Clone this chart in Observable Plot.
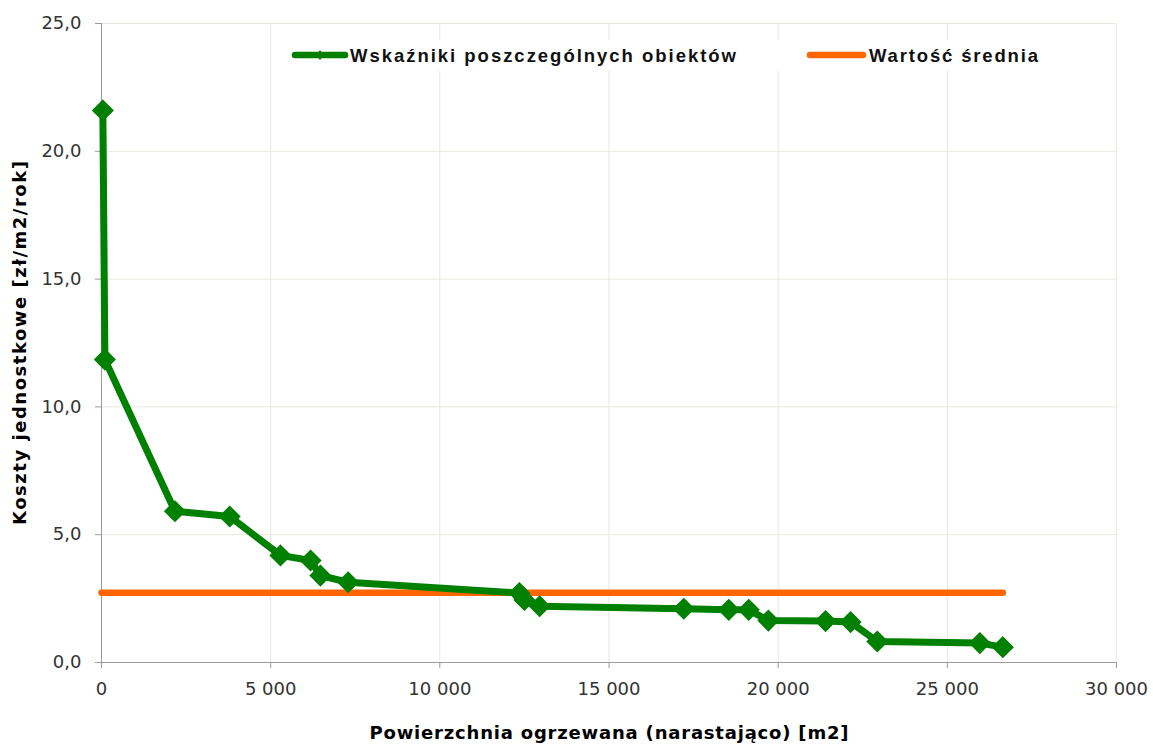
<!DOCTYPE html>
<html>
<head>
<meta charset="utf-8">
<script src="https://cdn.jsdelivr.net/npm/d3@7"></script>
<script src="https://cdn.jsdelivr.net/npm/@observablehq/plot@0.6"></script>
<style>
  html, body { margin: 0; padding: 0; background: #fff; }
  #wrap { position: relative; width: 1153px; height: 744px; }
  #legend { position: absolute; left: 0; top: 0; pointer-events: none; }
</style>
</head>
<body>
<div id="wrap"></div>
<script>
// ---- data ----
const area = [40, 100, 2170, 3790, 5290, 6180, 6470, 7290, 12350, 12500, 12950, 17210, 18540, 19130, 19710, 21400, 22140, 22930, 25960, 26640];
const cost = [21.6, 11.85, 5.92, 5.71, 4.19, 3.99, 3.40, 3.14, 2.72, 2.45, 2.20, 2.10, 2.06, 2.06, 1.64, 1.62, 1.58, 0.82, 0.76, 0.60];
const meanValue = 2.73;
const meanRange = [0, 26640];
const xTicks = [0, 5000, 10000, 15000, 20000, 25000, 30000];
const yTicks = [0, 5, 10, 15, 20, 25];
const seriesNames = ["Wskaźniki poszczególnych obiektów", "Wartość średnia"];
const xTitle = "Powierzchnia ogrzewana (narastająco) [m2]";
const yTitle = "Koszty jednostkowe [zł/m2/rok]";

const points = area.map((a, i) => ({x: a, y: cost[i]}));
const meanLine = meanRange.map(x => ({x, y: meanValue}));

const loc = d3.formatLocale({decimal: ",", thousands: "\u00a0", grouping: [3]});
const fmtX = loc.format(",d");
const fmtY = loc.format(".1f");

const green = "#008000";
const orange = "#ff6600";
const gridColor = "#e8e8de";
const axisColor = "#9a9a9a";

const chart = Plot.plot({
  width: 1153,
  height: 744,
  marginLeft: 101,
  marginRight: 37,
  marginTop: 23,
  marginBottom: 82,
  style: {fontFamily: "'DejaVu Sans', Verdana, sans-serif", fontSize: "18px", color: "#333", background: "#fff"},
  x: {domain: [0, 30000]},
  y: {domain: [0, 25]},
  marks: [
    Plot.gridX(xTicks, {stroke: gridColor, strokeOpacity: 1, strokeWidth: 1}),
    Plot.gridY(yTicks, {stroke: gridColor, strokeOpacity: 1, strokeWidth: 1}),
    Plot.ruleX([0], {stroke: axisColor, strokeWidth: 1}),
    Plot.ruleY([0], {stroke: axisColor, strokeWidth: 1}),
    Plot.axisX(xTicks, {tickFormat: fmtX, tickSize: 6, tickPadding: 14, stroke: axisColor, fill: "#333", label: null, fontSize: 18}),
    Plot.axisY(yTicks, {tickFormat: fmtY, tickSize: 6, tickPadding: 14, stroke: axisColor, fill: "#333", label: null, fontSize: 18}),
    Plot.line(meanLine, {x: "x", y: "y", stroke: orange, strokeWidth: 6.5, strokeLinecap: "round"}),
    Plot.line(points, {x: "x", y: "y", stroke: green, strokeWidth: 7, strokeLinejoin: "round"}),
    Plot.dot(points, {x: "x", y: "y", symbol: "diamond2", r: 9, fill: green, stroke: green, strokeWidth: 1.5}),
    Plot.text([xTitle], {frameAnchor: "bottom", dy: 76, text: d => d, fontWeight: "bold", fontSize: 18, fill: "#000", className: "xtitle"}),
    Plot.text([yTitle], {frameAnchor: "left", dx: -81, rotate: -90, textAnchor: "middle", text: d => d, fontWeight: "bold", fontSize: 18, fill: "#000", className: "ytitle"})
  ]
});

// stretch the axis titles to the reference's widths
d3.select(chart).selectAll(".xtitle text").attr("textLength", 479).attr("lengthAdjust", "spacing");
d3.select(chart).selectAll(".ytitle text").attr("textLength", 364).attr("lengthAdjust", "spacing");

const wrap = document.getElementById("wrap");
wrap.appendChild(chart);

// ---- legend overlay ----
const ns = "http://www.w3.org/2000/svg";
const leg = document.createElementNS(ns, "svg");
leg.setAttribute("id", "legend");
leg.setAttribute("width", 1153);
leg.setAttribute("height", 100);
const el = (tag, attrs, text) => {
  const e = document.createElementNS(ns, tag);
  for (const k in attrs) e.setAttribute(k, attrs[k]);
  if (text != null) e.textContent = text;
  leg.appendChild(e);
  return e;
};
el("rect", {x: 280, y: 40, width: 780, height: 31, fill: "#fff"});
el("line", {x1: 295, x2: 345, y1: 55, y2: 55, stroke: green, "stroke-width": 6.5, "stroke-linecap": "round"});
el("path", {d: "M320,50 L324,55 L320,60 L316,55 Z", fill: green});
el("text", {x: 350, y: 62, "font-family": "'Liberation Sans', Arial, sans-serif", "font-weight": "bold", "font-size": 18.5, fill: "#111", textLength: 386, lengthAdjust: "spacing"}, seriesNames[0]);
el("line", {x1: 810, x2: 863, y1: 55, y2: 55, stroke: orange, "stroke-width": 6.5, "stroke-linecap": "round"});
el("text", {x: 869, y: 62, "font-family": "'Liberation Sans', Arial, sans-serif", "font-weight": "bold", "font-size": 18.5, fill: "#111", textLength: 169, lengthAdjust: "spacing"}, seriesNames[1]);
wrap.appendChild(leg);
</script>
</body>
</html>
